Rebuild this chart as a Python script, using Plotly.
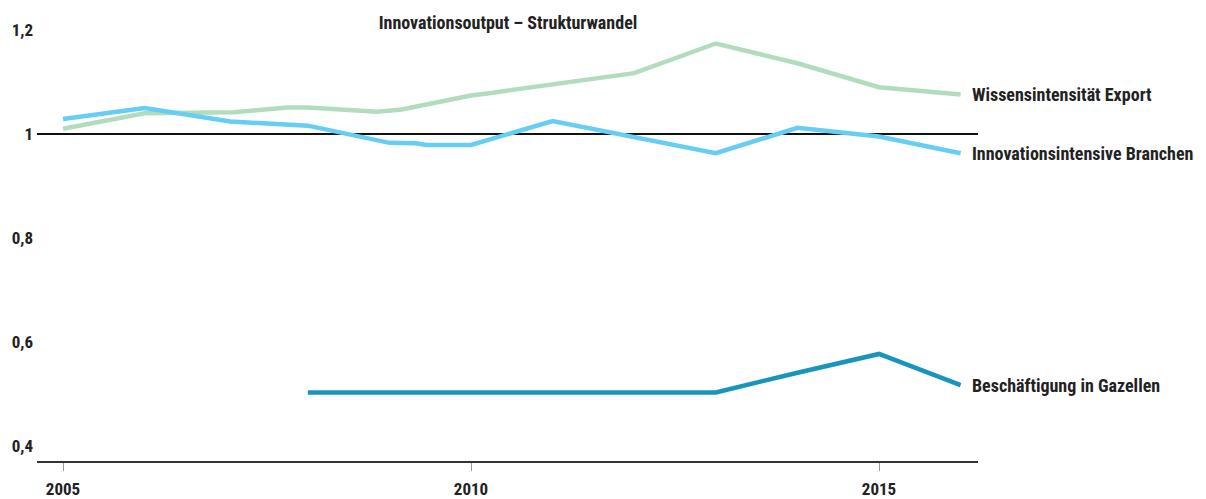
import plotly.graph_objects as go

# Data
wissen_x = [2005, 2006, 2007.1, 2007.75, 2008, 2008.85, 2009.15, 2010, 2010.2, 2012, 2013, 2014, 2015, 2016]
wissen_y = [1.010, 1.040, 1.042, 1.051, 1.051, 1.043, 1.047, 1.074, 1.078, 1.117, 1.174, 1.136, 1.090, 1.076]

innov_x = [2005, 2005.45, 2006, 2007.05, 2008, 2009, 2009.33, 2009.45, 2010, 2011, 2013, 2014, 2015, 2016]
innov_y = [1.029, 1.038, 1.050, 1.024, 1.016, 0.983, 0.982, 0.979, 0.979, 1.025, 0.963, 1.012, 0.995, 0.963]

gaz_x = [2008, 2013, 2014, 2015, 2016]
gaz_y = [0.503, 0.503, 0.541, 0.577, 0.517]

series_names = ["Wissensintensität Export", "Innovationsintensive Branchen", "Beschäftigung in Gazellen"]
title_text = "Innovationsoutput – Strukturwandel"
y_tickvals = [0.4, 0.6, 0.8, 1.0, 1.2]
y_ticktext = ["0,4", "0,6", "0,8", "1", "1,2"]
x_tickvals = [2005, 2010, 2015]
x_ticktext = ["2005", "2010", "2015"]

FONT = "Roboto Condensed, Liberation Sans Narrow, sans-serif"
colors = ["#b3dcbf", "#66cdf5", "#1895bd"]

W, H = 1198, 491

fig = go.Figure()

# reference line at 1
fig.add_shape(type="line", xref="paper", yref="y", x0=0, x1=1, y0=1, y1=1,
              line=dict(color="#111111", width=2), layer="below")

for xs, ys, c, name in [(wissen_x, wissen_y, colors[0], series_names[0]),
                        (innov_x, innov_y, colors[1], series_names[1]),
                        (gaz_x, gaz_y, colors[2], series_names[2])]:
    fig.add_trace(go.Scatter(x=xs, y=ys, mode="lines", name=name,
                             line=dict(color=c, width=4.5), showlegend=False,
                             hoverinfo="x+y"))
    fig.add_annotation(x=xs[-1], y=ys[-1], xref="x", yref="y", text="<b>%s</b>" % name,
                       showarrow=False, xanchor="left", xshift=9,
                       font=dict(family=FONT, size=18, color="#222222"))

fig.update_layout(
    width=W, height=H,
    margin=dict(l=29, r=228, t=12, b=38),
    paper_bgcolor="white", plot_bgcolor="white",
    title=dict(text="<b>%s</b>" % title_text, x=500 / W, xanchor="center",
               y=1 - 15 / H, yanchor="middle", xref="container", yref="container",
               font=dict(family=FONT, size=18, color="#222222")),
    font=dict(family=FONT, size=17, color="#222222"),
    xaxis=dict(range=[2004.681, 2016.213], showgrid=False, zeroline=False,
               showline=True, linecolor="#333333", linewidth=2, automargin=False,
               ticks="outside", ticklen=8, tickcolor="#999999", tickwidth=1,
               ticklabelstandoff=4,
               tickvals=x_tickvals, ticktext=["<b>%s</b>" % t for t in x_ticktext],
               tickfont=dict(family=FONT, size=17, color="#222222")),
    yaxis=dict(range=[0.3712, 1.2192], showgrid=False, zeroline=False, showline=False,
               automargin=False, ticklabelstandoff=3,
               ticks="", tickvals=y_tickvals, ticktext=["<b>%s</b>" % t for t in y_ticktext],
               tickfont=dict(family=FONT, size=17, color="#222222")),
)

fig.write_html("out.html")
